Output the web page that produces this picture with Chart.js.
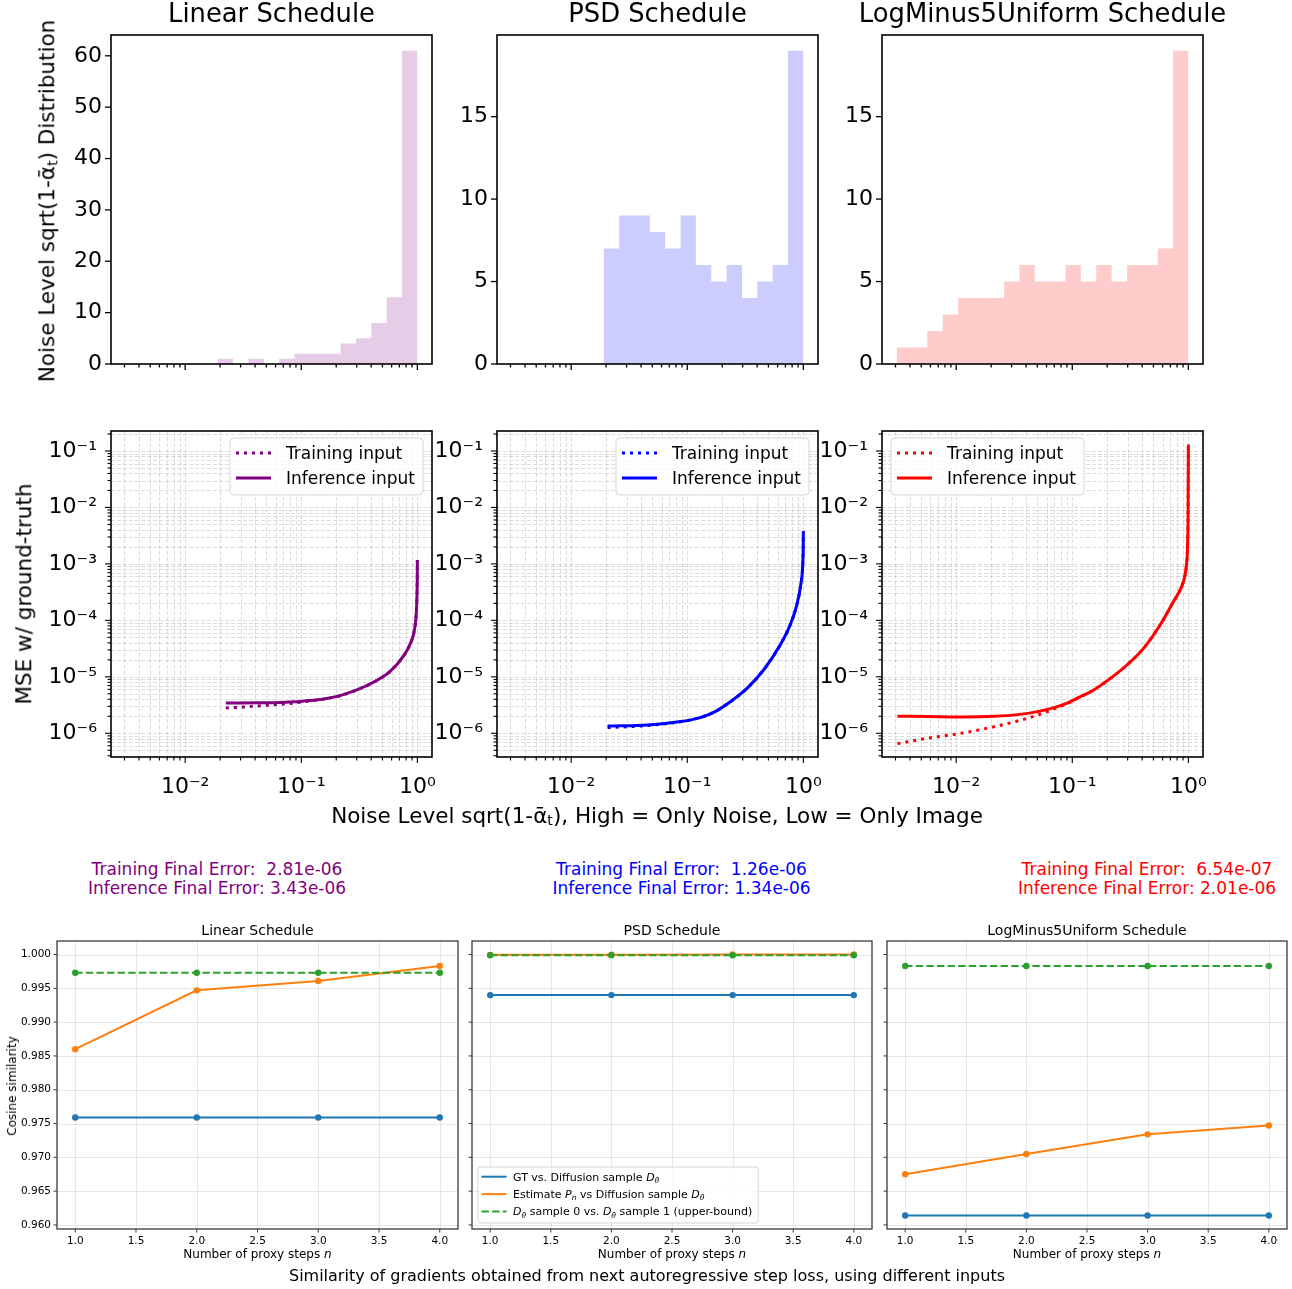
<!DOCTYPE html>
<html>
<head>
<meta charset="utf-8">
<script src="https://cdn.jsdelivr.net/npm/chart.js@4.4.1/dist/chart.umd.min.js"></script>
<style>
  html, body { margin: 0; padding: 0; background: #fff; }
  #fig { position: relative; width: 1292px; height: 1289px; overflow: hidden; background: #fff;
         font-family: 'DejaVu Sans', sans-serif; color: #000; }
  .panel { position: absolute; }
  .panel canvas { display: block; }
  .txt { position: absolute; white-space: pre; line-height: 1; }
  .sub { font-size: 0.66em; position: relative; top: 0.18em; }
</style>
</head>
<body>
<div id="fig"></div>
<script>
// ---- data ----
const schedNames = ['Linear Schedule', 'PSD Schedule', 'LogMinus5Uniform Schedule'];

// shared histogram bin edges (noise level), 19 bins
const binEdges = [0.003069, 0.004162, 0.005642, 0.007652, 0.010378, 0.014069, 0.019083, 0.025878,
                  0.035084, 0.04758, 0.064521, 0.087478, 0.11865, 0.16089, 0.21818, 0.2958,
                  0.4011, 0.54388, 0.73773, 1.0];
const linearCounts = [0, 0, 0, 0, 0, 0, 1, 0, 1, 0, 1, 2, 2, 2, 4, 5, 8, 13, 61];
const psdCounts    = [0, 0, 0, 0, 0, 0, 7, 9, 9, 8, 7, 9, 6, 5, 6, 4, 5, 6, 19];
const logUniCounts = [1, 1, 2, 3, 4, 4, 4, 5, 6, 5, 5, 6, 5, 6, 5, 6, 6, 7, 19];

// MSE vs noise level
const linNoise = [0.0224, 0.03, 0.042, 0.058, 0.086, 0.105, 0.156, 0.216, 0.301, 0.418, 0.579, 0.753, 0.859, 0.948, 0.980, 0.993, 0.998, 1.0];
const linTrain = [2.81e-6, 2.9e-6, 3.05e-6, 3.2e-6, 3.42e-6, 3.62e-6, 4.02e-6, 4.63e-6, 5.84e-6, 8.0e-6, 1.23e-5, 2.28e-5, 3.66e-5, 7.2e-5, 1.42e-4, 3.0e-4, 6.0e-4, 1.17e-3];
const linInfer = [3.43e-6, 3.44e-6, 3.46e-6, 3.49e-6, 3.6e-6, 3.73e-6, 4.06e-6, 4.65e-6, 5.85e-6, 8.0e-6, 1.23e-5, 2.28e-5, 3.66e-5, 7.2e-5, 1.42e-4, 3.0e-4, 6.0e-4, 1.17e-3];

const psdNoise = [0.0206, 0.0454, 0.0877, 0.122, 0.169, 0.235, 0.327, 0.454, 0.631, 0.769, 0.877, 0.948, 0.987, 0.997, 1.0];
const psdTrain = [1.26e-6, 1.37e-6, 1.6e-6, 1.84e-6, 2.35e-6, 3.63e-6, 6.25e-6, 1.32e-5, 3.66e-5, 8.26e-5, 1.87e-4, 4.2e-4, 9.5e-4, 2.0e-3, 3.8e-3];
const psdInfer = [1.34e-6, 1.4e-6, 1.61e-6, 1.84e-6, 2.35e-6, 3.63e-6, 6.25e-6, 1.32e-5, 3.66e-5, 8.26e-5, 1.87e-4, 4.2e-4, 9.5e-4, 2.0e-3, 3.8e-3];

const logUniNoise = [0.00312, 0.00571, 0.01104, 0.0213, 0.0338, 0.0501, 0.0744, 0.0968, 0.110, 0.153, 0.213, 0.296, 0.411, 0.571, 0.743, 0.877, 0.93, 0.965, 0.985, 0.995, 1.0];
const logUniTrain = [6.54e-7, 8.2e-7, 1.0e-6, 1.31e-6, 1.65e-6, 2.1e-6, 2.85e-6, 3.6e-6, 4.16e-6, 5.85e-6, 9.4e-6, 1.62e-5, 3.19e-5, 8.26e-5, 2.14e-4, 4.0e-4, 6.0e-4, 1.0e-3, 2.2e-3, 9.6e-3, 0.13];
const logUniInfer = [2.01e-6, 1.98e-6, 1.95e-6, 2.0e-6, 2.14e-6, 2.42e-6, 2.96e-6, 3.65e-6, 4.16e-6, 5.85e-6, 9.4e-6, 1.62e-5, 3.19e-5, 8.26e-5, 2.14e-4, 4.0e-4, 6.0e-4, 1.0e-3, 2.2e-3, 9.6e-3, 0.13];

const trainFinalErr = ['2.81e-06', '1.26e-06', '6.54e-07'];
const inferFinalErr = ['3.43e-06', '1.34e-06', '2.01e-06'];

// gradient cosine similarity vs proxy steps
const proxySteps = [1, 2, 3, 4];
const linGtSim   = [0.9759, 0.9759, 0.9759, 0.9759];
const linEstSim  = [0.9860, 0.9947, 0.9961, 0.9983];
const linDiffSim = [0.9973, 0.9973, 0.9973, 0.9973];
const psdGtSim   = [0.9940, 0.9940, 0.9940, 0.9940];
const psdEstSim  = [0.99995, 0.99996, 1.0, 1.0];
const psdDiffSim = [0.9999, 0.9999, 0.9999, 0.9999];
const logGtSim   = [0.9614, 0.9614, 0.9614, 0.9614];
const logEstSim  = [0.9675, 0.9705, 0.9734, 0.9747];
const logDiffSim = [0.9983, 0.9983, 0.9983, 0.9983];

// ---- styles ----
const schedColors = ['#800080', '#0000ff', '#ff0000'];
const histFills = ['rgba(128,0,128,0.2)', 'rgba(0,0,255,0.2)', 'rgba(255,0,0,0.2)'];
const C_BLUE = '#1f77b4', C_ORANGE = '#ff7f0e', C_GREEN = '#2ca02c';
const FONT = "'DejaVu Sans', sans-serif";

Chart.defaults.font.family = FONT;
Chart.defaults.color = '#000';

const fig = document.getElementById('fig');

const isPow10 = v => Math.abs(Math.log10(v) - Math.round(Math.log10(v))) < 1e-6;
const SUP = {'-': '\u207B', '0': '\u2070', '1': '\u00B9', '2': '\u00B2', '3': '\u00B3', '4': '\u2074',
             '5': '\u2075', '6': '\u2076', '7': '\u2077', '8': '\u2078', '9': '\u2079'};
const powLabel = v => '10' + String(Math.round(Math.log10(v))).split('').map(c => SUP[c]).join('');

// log ticks 1..9 x 10^n inside the axis range
function logTicks(scale) {
  const out = [];
  const lo = Math.floor(Math.log10(scale.min)), hi = Math.ceil(Math.log10(scale.max));
  for (let e = lo; e <= hi; e++) {
    for (let m = 1; m < 10; m++) {
      const v = parseFloat((m * Math.pow(10, e)).toPrecision(6));
      if (v >= scale.min && v <= scale.max) out.push({value: v, major: m === 1});
    }
  }
  scale.ticks = out;
}

// matplotlib-like frame, tick marks and grid
const mplAxes = {
  id: 'mplAxes',
  beforeDatasetsDraw(chart, args, o) {
    if (!o.grid) return;
    const {ctx, chartArea: a} = chart;
    ctx.save();
    ctx.strokeStyle = o.grid.color;
    ctx.lineWidth = o.grid.width;
    ctx.setLineDash(o.grid.dash || []);
    ['x', 'y'].forEach(id => {
      const s = chart.scales[id];
      s.ticks.forEach(t => {
        const p = Math.round(s.getPixelForValue(t.value)) + 0.5;
        ctx.beginPath();
        if (id === 'x') { ctx.moveTo(p, a.top); ctx.lineTo(p, a.bottom); }
        else { ctx.moveTo(a.left, p); ctx.lineTo(a.right, p); }
        ctx.stroke();
      });
    });
    ctx.restore();
  },
  afterDatasetsDraw(chart, args, o) {
    if (!o.color) return;
    const {ctx, chartArea: a} = chart;
    ctx.save();
    ctx.strokeStyle = o.color;
    ctx.lineWidth = o.tickWidth || 1;
    ['x', 'y'].forEach(id => {
      const s = chart.scales[id];
      s.ticks.forEach(t => {
        const major = s.type !== 'logarithmic' || isPow10(t.value);
        const len = major ? o.major : o.minor;
        const p = s.getPixelForValue(t.value);
        ctx.beginPath();
        if (id === 'x') { ctx.moveTo(p, a.bottom); ctx.lineTo(p, a.bottom + len); }
        else { ctx.moveTo(a.left, p); ctx.lineTo(a.left - len, p); }
        ctx.stroke();
      });
    });
    ctx.lineWidth = o.frame;
    ctx.strokeRect(a.left, a.top, a.right - a.left, a.bottom - a.top);
    ctx.restore();
  }
};

// legend drawn inside the axes, matplotlib style
const mplLegend = {
  id: 'mplLegend',
  afterDraw(chart, args, o) {
    if (!o.items) return;
    const {ctx, chartArea: a} = chart;
    const fs = o.fontSize;
    const font = r => (r.it ? 'italic ' : '') + (r.sub ? fs * 0.7 : fs) + 'px ' + FONT;
    ctx.save();
    const widths = o.items.map(it => it.runs.reduce((w, r) => {
      ctx.font = font(r);
      return w + ctx.measureText(r.t).width;
    }, 0));
    const bw = o.textX + Math.max(...widths) + o.padR;
    const bh = o.height;
    const bx = o.corner.includes('r') ? a.right - o.insetX - bw : a.left + o.insetX;
    const by = o.corner.includes('b') ? a.bottom - o.insetY - bh : a.top + o.insetY;
    ctx.beginPath();
    if (ctx.roundRect) ctx.roundRect(bx, by, bw, bh, o.radius); else ctx.rect(bx, by, bw, bh);
    ctx.fillStyle = 'rgba(255,255,255,0.8)';
    ctx.fill();
    ctx.strokeStyle = 'rgba(204,204,204,0.8)';
    ctx.lineWidth = 1;
    ctx.stroke();
    o.items.forEach((it, i) => {
      const cy = by + o.firstRow + i * o.rowGap;
      ctx.beginPath();
      ctx.setLineDash(it.dash || []);
      ctx.lineCap = 'butt';
      ctx.strokeStyle = it.color;
      ctx.lineWidth = it.width;
      ctx.moveTo(bx + o.lineX, cy);
      ctx.lineTo(bx + o.lineX + o.lineLen, cy);
      ctx.stroke();
      ctx.setLineDash([]);
      let x = bx + o.textX;
      ctx.fillStyle = '#000';
      ctx.textBaseline = 'alphabetic';
      ctx.textAlign = 'left';
      it.runs.forEach(r => {
        ctx.font = font(r);
        ctx.fillText(r.t, x, cy + fs * 0.36 + (r.sub ? fs * 0.22 : 0));
        x += ctx.measureText(r.t).width;
      });
    });
    ctx.restore();
  }
};

Chart.register(mplAxes, mplLegend);

function zeroPad(s) { s.paddingTop = 0; s.paddingBottom = 0; s.paddingLeft = 0; s.paddingRight = 0; }

function addChart(rect, pad, config) {
  const w = rect.r - rect.l + pad.l + pad.r;
  const h = rect.b - rect.t + pad.t + pad.b;
  const box = document.createElement('div');
  box.className = 'panel';
  box.style.left = (rect.l - pad.l) + 'px';
  box.style.top = (rect.t - pad.t) + 'px';
  box.style.width = w + 'px';
  box.style.height = h + 'px';
  const cv = document.createElement('canvas');
  cv.width = w;
  cv.height = h;
  box.appendChild(cv);
  fig.appendChild(box);
  const o = config.options;
  o.responsive = false;
  o.animation = false;
  o.devicePixelRatio = 1;
  o.events = [];
  o.layout = {padding: {top: pad.t, right: pad.r, left: 0, bottom: 0}};
  o.plugins = Object.assign({legend: {display: false}, tooltip: {enabled: false}, title: {display: false}}, o.plugins);
  o.scales.x.afterFit = s => { s.height = pad.b; zeroPad(s); };
  o.scales.y.afterFit = s => { s.width = pad.l; zeroPad(s); };
  return new Chart(cv, config);
}

function text(html, x, y, size, opts = {}) {
  const d = document.createElement('div');
  d.className = 'txt';
  d.innerHTML = html;
  d.style.fontSize = size + 'px';
  if (opts.color) d.style.color = opts.color;
  d.style.left = x + 'px';
  if (opts.rotate) {
    d.style.top = y + 'px';
    d.style.transform = 'translate(-50%, -50%) rotate(-90deg)';
  } else {
    d.style.top = (y - 0.846 * size) + 'px';   // y is the baseline
    d.style.transform = 'translateX(-50%)';
  }
  fig.appendChild(d);
}

// ---- layout ----
const colL = [111, 497, 882], colR = [432, 818, 1203];
const row1 = {t: 35, b: 364}, row2 = {t: 431, b: 757};
const simL = [57, 472, 887], simR = [458, 872, 1287];
const row3 = {t: 941, b: 1229};

const noiseMin = 0.002296, noiseMax = 1.3366;
const mseMin = 3.8e-7, mseMax = 0.226;
const histMax = [64.05, 19.95, 19.95];
const histStep = [10, 5, 5];
const cosMin = 0.9594, cosMax = 1.002;

const histCounts = [linearCounts, psdCounts, logUniCounts];
const mseNoise = [linNoise, psdNoise, logUniNoise];
const mseTrain = [linTrain, psdTrain, logUniTrain];
const mseInfer = [linInfer, psdInfer, logUniInfer];
const simGt = [linGtSim, psdGtSim, logGtSim];
const simEst = [linEstSim, psdEstSim, logEstSim];
const simDiff = [linDiffSim, psdDiffSim, logDiffSim];

const xy = (xs, ys) => xs.map((x, i) => ({x, y: ys[i]}));

function histPoints(counts) {
  const pts = counts.map((c, i) => ({x: binEdges[i], y: c}));
  pts.push({x: binEdges[counts.length], y: counts[counts.length - 1]});
  return pts;
}

const TICK_FS = 22;
const noGrid = {display: false, drawTicks: false};

// row 1: noise level histograms
for (let i = 0; i < 3; i++) {
  addChart({l: colL[i], r: colR[i], t: row1.t, b: row1.b}, {l: 100, r: 10, t: 8, b: 14}, {
    type: 'line',
    data: {datasets: [{
      data: histPoints(histCounts[i]), stepped: 'before', fill: 'origin',
      backgroundColor: histFills[i], borderColor: 'rgba(0,0,0,0)', borderWidth: 0, pointRadius: 0
    }]},
    options: {
      scales: {
        x: {type: 'logarithmic', min: noiseMin, max: noiseMax, afterBuildTicks: logTicks,
            grid: noGrid, border: {display: false}, ticks: {display: false}},
        y: {type: 'linear', min: 0, max: histMax[i], grid: noGrid, border: {display: false},
            ticks: {stepSize: histStep[i], includeBounds: false, padding: 9, font: {size: TICK_FS}}}
      },
      plugins: {mplAxes: {color: '#000', major: 6, minor: 3.5, frame: 1.6, tickWidth: 1.3}}
    }
  });
}

// row 2: MSE vs noise level
for (let i = 0; i < 3; i++) {
  const col = schedColors[i];
  const line = {borderColor: col, borderWidth: 3, pointRadius: 0, cubicInterpolationMode: 'monotone'};
  addChart({l: colL[i], r: colR[i], t: row2.t, b: row2.b}, {l: 100, r: 10, t: 8, b: 48}, {
    type: 'line',
    data: {datasets: [
      Object.assign({data: xy(mseNoise[i], mseInfer[i]), order: 0}, line),
      Object.assign({data: xy(mseNoise[i], mseTrain[i]), borderDash: [3, 5], borderCapStyle: 'butt', order: 1}, line)
    ]},
    options: {
      scales: {
        x: {type: 'logarithmic', min: noiseMin, max: noiseMax, afterBuildTicks: logTicks,
            grid: noGrid, border: {display: false},
            ticks: {autoSkip: false, maxRotation: 0, minRotation: 0, padding: 17, font: {size: TICK_FS},
                    callback: v => isPow10(v) ? powLabel(v) : ''}},
        y: {type: 'logarithmic', min: mseMin, max: mseMax, afterBuildTicks: logTicks,
            grid: noGrid, border: {display: false},
            ticks: {autoSkip: false, padding: 14, font: {size: TICK_FS},
                    callback: v => isPow10(v) ? powLabel(v) : ''}}
      },
      plugins: {
        mplAxes: {color: '#000', major: 6, minor: 3.5, frame: 1.6, tickWidth: 1.1,
                  grid: {color: 'rgba(170,170,170,0.45)', width: 0.9, dash: [4, 2]}},
        mplLegend: {
          corner: i === 2 ? 'tl' : 'tr', insetX: 9, insetY: 7, height: 57, radius: 4,
          fontSize: 17, lineX: 6, lineLen: 35, textX: 56, padR: 8, firstRow: 15, rowGap: 25,
          items: [
            {runs: [{t: 'Training input'}], color: col, width: 3, dash: [3, 5]},
            {runs: [{t: 'Inference input'}], color: col, width: 3}
          ]
        }
      }
    }
  });
}

// row 3: gradient similarity
const Dth = [{t: 'D', it: true}, {t: '\u03B8', it: true, sub: true}];
for (let i = 0; i < 3; i++) {
  const legend = i === 1 ? {
    corner: 'bl', insetX: 6, insetY: 6, height: 56, radius: 3,
    fontSize: 11, lineX: 3.5, lineLen: 25, textX: 35, padR: 6, firstRow: 9.7, rowGap: 17.4,
    items: [
      {runs: [{t: 'GT vs. Diffusion sample '}, ...Dth], color: C_BLUE, width: 2},
      {runs: [{t: 'Estimate '}, {t: 'P', it: true}, {t: 'n', it: true, sub: true}, {t: ' vs Diffusion sample '}, ...Dth],
       color: C_ORANGE, width: 2},
      {runs: [...Dth, {t: ' sample 0 vs. '}, ...Dth, {t: ' sample 1 (upper-bound)'}], color: C_GREEN, width: 2, dash: [7.4, 3.2]}
    ]
  } : {};
  const pts = {pointRadius: 3.2, pointBorderWidth: 0, borderWidth: 2, tension: 0};
  addChart({l: simL[i], r: simR[i], t: row3.t, b: row3.b}, {l: i === 0 ? 55 : 12, r: 4, t: 4, b: 30}, {
    type: 'line',
    data: {datasets: [
      Object.assign({data: xy(proxySteps, simGt[i]), borderColor: C_BLUE, pointBackgroundColor: C_BLUE, order: 2}, pts),
      Object.assign({data: xy(proxySteps, simEst[i]), borderColor: C_ORANGE, pointBackgroundColor: C_ORANGE, order: 1}, pts),
      Object.assign({data: xy(proxySteps, simDiff[i]), borderColor: C_GREEN, pointBackgroundColor: C_GREEN,
                     borderDash: [7.4, 3.2], order: 0}, pts)
    ]},
    options: {
      scales: {
        x: {type: 'linear', min: 0.85, max: 4.15, grid: noGrid, border: {display: false},
            ticks: {stepSize: 0.5, includeBounds: false, maxRotation: 0, padding: 6, font: {size: 10.5},
                    callback: v => v.toFixed(1)}},
        y: {type: 'linear', min: cosMin, max: cosMax, grid: noGrid, border: {display: false},
            ticks: {stepSize: 0.005, includeBounds: false, padding: 6, font: {size: 10.5}, display: i === 0,
                    callback: v => v.toFixed(3)}}
      },
      plugins: {
        mplAxes: {color: '#3a3a3a', major: 3.5, minor: 2, frame: 1.3, tickWidth: 1,
                  grid: {color: 'rgba(176,176,176,0.35)', width: 0.9}},
        mplLegend: legend
      }
    }
  });
}

// ---- text ----
const alphaT = 'sqrt(1-\u1FB1<span class="sub">t</span>)';
const rowCenters = [271.5, 657.5, 1042.5];
schedNames.forEach((n, i) => text(n, rowCenters[i], 22.7, 25.8));
text('Noise Level ' + alphaT + ' Distribution', 47, 200.5, 21.5, {rotate: true});
text('MSE w/ ground-truth', 24, 594, 21.5, {rotate: true});
text('Noise Level ' + alphaT + ', High = Only Noise, Low = Only Image', 657, 823, 21.5);

const errCenters = [217, 681.5, 1147];
for (let i = 0; i < 3; i++) {
  text('Training Final Error:  ' + trainFinalErr[i], errCenters[i], 875, 17, {color: schedColors[i]});
  text('Inference Final Error: ' + inferFinalErr[i], errCenters[i], 894.5, 17, {color: schedColors[i]});
}

const simCenters = [257.5, 672, 1087];
schedNames.forEach((n, i) => {
  text(n, simCenters[i], 935, 14);
  text('Number of proxy steps <i>n</i>', simCenters[i], 1258.3, 12);
});
text('Cosine similarity', 12, 1086, 12, {rotate: true});
text('Similarity of gradients obtained from next autoregressive step loss, using different inputs', 647, 1282, 16);
</script>
</body>
</html>
